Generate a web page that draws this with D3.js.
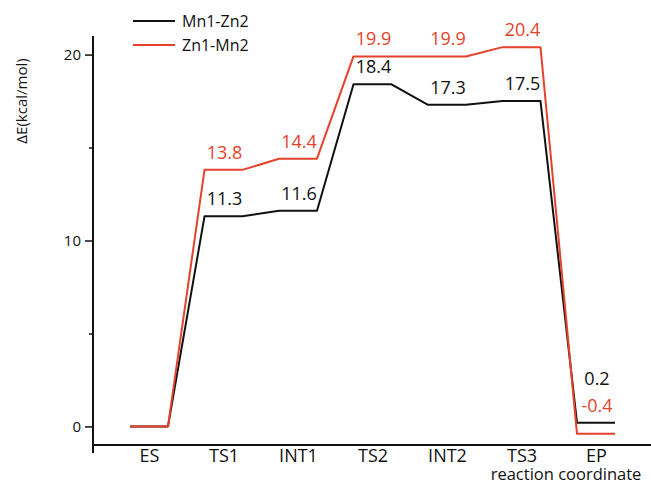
<!DOCTYPE html>
<html>
<head>
<meta charset="utf-8">
<script src="https://cdn.jsdelivr.net/npm/d3@7"></script>
<style>
  html, body { margin: 0; padding: 0; background: #fff; }
  svg { display: block; }
  text { font-family: "Open Sans", sans-serif; }
</style>
</head>
<body>
<svg id="chart" width="651" height="484"></svg>
<script>
const categories = ["ES", "TS1", "INT1", "TS2", "INT2", "TS3", "EP"];
const mnZn = [0, 11.3, 11.6, 18.4, 17.3, 17.5, 0.2];   // Mn1-Zn2
const znMn = [0, 13.8, 14.4, 19.9, 19.9, 20.4, -0.4];  // Zn1-Mn2
const seriesNames = ["Mn1-Zn2", "Zn1-Mn2"];
const yTicks = [0, 10, 20];
const yMinorTicks = [5, 15];

const BLACK = "#111111";
const RED = "#e5422b";

const svg = d3.select("#chart");
const x = d3.scaleLinear().domain([0, 6]).range([149, 596]);
const y = d3.scaleLinear().domain([-1, 21]).range([445, 36]);
const half = 0.255;

// axes
const axisX = 93;
svg.append("line").attr("x1", axisX).attr("x2", axisX).attr("y1", 36).attr("y2", 453)
  .attr("stroke", "#111").attr("stroke-width", 2);
svg.append("line").attr("x1", axisX).attr("x2", 651).attr("y1", y(-1)).attr("y2", y(-1))
  .attr("stroke", "#111").attr("stroke-width", 2);

const yAxis = svg.append("g").attr("transform", `translate(${axisX},0)`)
  .call(d3.axisLeft(y).tickValues(yTicks).tickSize(8).tickPadding(4).tickFormat(d3.format("d")));
yAxis.select(".domain").remove();
yAxis.selectAll(".tick line").attr("stroke", "#111").attr("stroke-width", 1.5);
yAxis.selectAll(".tick text").attr("font-size", 15).attr("fill", "#111")
  .style("font-family", "'Open Sans', sans-serif");

const yMinor = svg.append("g").attr("transform", `translate(${axisX},0)`)
  .call(d3.axisLeft(y).tickValues(yMinorTicks).tickSize(4).tickFormat(""));
yMinor.select(".domain").remove();
yMinor.selectAll(".tick line").attr("stroke", "#111").attr("stroke-width", 1.5);

// x category labels
const xAxis = svg.append("g").attr("transform", `translate(0,${y(-1)})`)
  .call(d3.axisBottom(x).tickValues(d3.range(categories.length)).tickSize(0).tickPadding(4)
    .tickFormat(i => categories[i]));
xAxis.select(".domain").remove();
xAxis.selectAll(".tick text").attr("font-size", 18).attr("fill", "#111")
  .style("font-family", "'Open Sans', sans-serif");

svg.append("text").attr("x", 566).attr("y", 480).attr("text-anchor", "middle")
  .attr("font-size", 16.5).attr("fill", "#111").text("reaction coordinate");

svg.append("text").attr("transform", "translate(27,101) rotate(-90)")
  .attr("text-anchor", "middle").attr("font-size", 15).attr("fill", "#111")
  .text("ΔE(kcal/mol)");

// energy profile paths
function profile(vals) {
  const pts = [];
  vals.forEach((v, i) => { pts.push([x(i - half), y(v)]); pts.push([x(i + half), y(v)]); });
  return d3.line()(pts);
}
svg.append("path").attr("d", profile(mnZn)).attr("fill", "none")
  .attr("stroke", BLACK).attr("stroke-width", 2).attr("stroke-linejoin", "round");
svg.append("path").attr("d", profile(znMn)).attr("fill", "none")
  .attr("stroke", RED).attr("stroke-width", 2).attr("stroke-linejoin", "round");

// value labels
const fmt = v => d3.format(".1f")(v).replace("\u2212", "-");
const last = categories.length - 1;
function labels(vals, color, isBlack) {
  svg.append("g").selectAll("text").data(vals.map((v, i) => ({ v, i })).filter(d => d.i > 0))
    .join("text")
    .attr("x", d => x(d.i) + 1)
    .attr("y", d => {
      if (d.i === last) return isBlack ? y(d.v) - 38 : y(d.v) - 22;
      return y(d.v) - 11;
    })
    .attr("text-anchor", "middle").attr("font-size", 18).attr("fill", color)
    .text(d => fmt(d.v));
}
labels(mnZn, BLACK, true);
labels(znMn, RED, false);

// legend
const legend = svg.append("g");
[[BLACK, 21], [RED, 45]].forEach(([c, ly], k) => {
  legend.append("line").attr("x1", 133).attr("x2", 175).attr("y1", ly).attr("y2", ly)
    .attr("stroke", c).attr("stroke-width", 2);
  legend.append("text").attr("x", 182).attr("y", ly + 6).attr("font-size", 16)
    .attr("fill", "#111").text(seriesNames[k]);
});
</script>
</body>
</html>
